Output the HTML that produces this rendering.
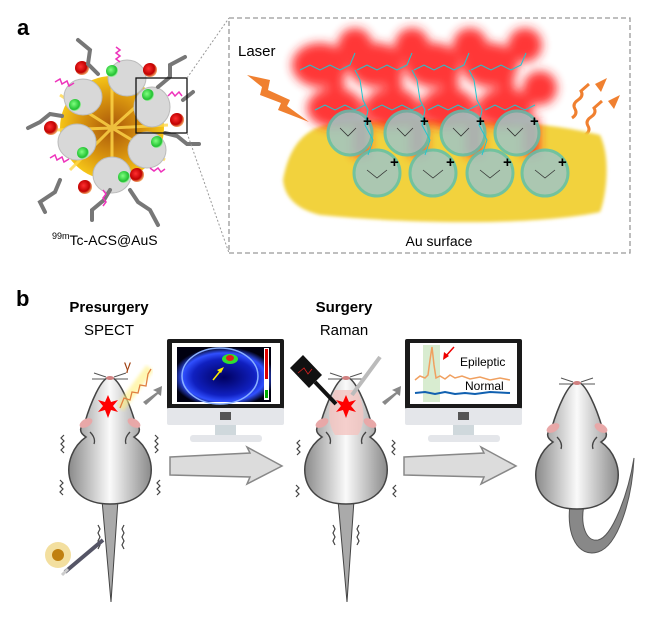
<!DOCTYPE html>
<html><head><meta charset="utf-8"><style>
html,body{margin:0;padding:0;background:#fff;}
svg{display:block;font-family:"Liberation Sans",sans-serif;}
</style></head><body>
<svg width="663" height="633" viewBox="0 0 663 633" xmlns="http://www.w3.org/2000/svg">
<defs>
<radialGradient id="gold" cx="50%" cy="50%" r="50%"><stop offset="0" stop-color="#a8560a"/><stop offset="0.6" stop-color="#d9950f"/><stop offset="1" stop-color="#f5c518"/></radialGradient>
<linearGradient id="mb" x1="0" x2="1" y1="0" y2="0"><stop offset="0" stop-color="#8a8a8a"/><stop offset="0.5" stop-color="#fafafa"/><stop offset="1" stop-color="#8a8a8a"/></linearGradient>
<filter id="blur3"><feGaussianBlur stdDeviation="5"/></filter>
<filter id="blur2"><feGaussianBlur stdDeviation="1.5"/></filter>
<radialGradient id="red" cx="40%" cy="40%" r="60%"><stop offset="0" stop-color="#ff3030"/><stop offset="0.7" stop-color="#c00000"/><stop offset="1" stop-color="#f0a060"/></radialGradient>
<radialGradient id="grn" cx="40%" cy="40%" r="60%"><stop offset="0" stop-color="#80ff80"/><stop offset="0.8" stop-color="#20c030"/><stop offset="1" stop-color="#b0f0b0"/></radialGradient>
<radialGradient id="scr" cx="50%" cy="55%" r="55%"><stop offset="0" stop-color="#000060"/><stop offset="0.6" stop-color="#1020c0"/><stop offset="0.8" stop-color="#3050ff"/><stop offset="1" stop-color="#000010"/></radialGradient>
<g id="mouse">
 <path d="M0,0 C-9,0 -20,28 -25,45 C-30,50 -32,55 -24,60 C-50,78 -50,127 0,127 C50,127 50,78 24,60 C32,55 30,50 25,45 C20,28 9,0 0,0 Z" fill="url(#mb)" stroke="#444" stroke-width="1.5"/>
 <ellipse cx="-24" cy="46" rx="7" ry="4" fill="#e8a8a8" transform="rotate(-30 -24 46)"/>
 <ellipse cx="24" cy="46" rx="7" ry="4" fill="#e8a8a8" transform="rotate(30 24 46)"/>
 <path d="M-20,55 q6,6 4,12 M20,55 q-6,6 -4,12" stroke="#444" fill="none" stroke-width="1.3"/>
 <path d="M-4,0 l-12,-4 M-5,2 l-13,0 M4,0 l12,-4 M5,2 l13,0" stroke="#555" stroke-width="1"/>
 <ellipse cx="0" cy="1" rx="4" ry="2" fill="#d08080"/>
</g>
<g id="mon">
 <rect x="0" y="0" width="117" height="70" fill="#1a1a1a" rx="2"/>
 <rect x="0" y="69" width="117" height="17" fill="#e4e6ea" rx="2"/>
 <rect x="53" y="73" width="11" height="8" fill="#555"/>
 <rect x="48" y="86" width="21" height="10" fill="#cfd8dc"/>
 <rect x="23" y="96" width="72" height="7" fill="#e4e6ea" rx="3"/>
</g>
<path id="bigarrow" d="M0,10 L80,6 L77,0 L112,19 L77,37 L80,30 L0,28 Z" fill="#dcdcdc" stroke="#888" stroke-width="1.5"/>
</defs>

<!-- panel a -->
<text x="17" y="35" font-size="22" font-weight="bold">a</text>
<circle cx="112" cy="128" r="52" fill="url(#gold)"/>
<g stroke="#ffd84a" stroke-width="3" opacity="0.8">
<path d="M112,128 L60,95 M112,128 L165,160 M112,128 L70,170 M112,128 L160,85 M112,128 L112,70 M112,128 L112,185 M112,128 L55,130 M112,128 L168,125"/></g>
<g fill="#d8d8d8" stroke="#bbb">
<ellipse cx="83" cy="97" rx="19" ry="18"/><ellipse cx="127" cy="78" rx="19" ry="18"/><ellipse cx="152" cy="107" rx="18" ry="20"/><ellipse cx="147" cy="150" rx="19" ry="18"/><ellipse cx="112" cy="175" rx="19" ry="18"/><ellipse cx="77" cy="142" rx="19" ry="18"/></g>
<g fill="url(#grn)">
<circle cx="75" cy="105" r="6"/><circle cx="112" cy="71" r="6"/><circle cx="148" cy="95" r="6"/><circle cx="157" cy="142" r="6"/><circle cx="124" cy="177" r="6"/><circle cx="83" cy="153" r="6"/></g>
<g fill="url(#red)">
<circle cx="82" cy="68" r="7"/><circle cx="150" cy="70" r="7"/><circle cx="177" cy="120" r="7"/><circle cx="137" cy="175" r="7"/><circle cx="85" cy="187" r="7"/><circle cx="51" cy="128" r="7"/></g>
<g stroke="#777" stroke-width="4" fill="none" stroke-linecap="round">
<path d="M78,40 l12,10 l-2,14 l10,10"/><path d="M185,57 l-15,8 l0,12 l-12,10"/><path d="M28,128 l12,-6 l10,-8 l12,2"/><path d="M60,180 l-5,12 l-15,10 l5,10"/><path d="M110,190 l-6,10 l-12,10 l0,10"/><path d="M130,190 l8,12 l12,8 l8,15"/><path d="M165,133 l12,3 l10,8 l12,0"/><path d="M183,100 l10,-8"/></g>
<g stroke="#ee33bb" stroke-width="1.5" fill="none">
<path d="M55,82 l5,-3 l2,5 l5,-3 l2,5 l5,-3"/><path d="M116,47 l4,3 l-4,3 l4,3 l-4,3 l4,3"/><path d="M168,96 l4,-4 l3,4 l4,-4 l3,4"/><path d="M50,158 l5,-3 l2,5 l5,-3 l2,5 l5,-3"/><path d="M150,168 l4,3 l4,-3 l3,4 l4,-3"/><path d="M103,190 l3,4 l-3,4 l3,4 l-3,4"/></g>
<rect x="136" y="78" width="51" height="55" fill="none" stroke="#111" stroke-width="1.3"/>
<line x1="187" y1="78" x2="229" y2="18" stroke="#999" stroke-dasharray="2,2"/>
<line x1="187" y1="133" x2="229" y2="253" stroke="#999" stroke-dasharray="2,2"/>
<text x="52" y="245" font-size="14"><tspan font-size="9" dy="-6">99m</tspan><tspan dy="6">Tc-ACS@AuS</tspan></text>

<rect x="229" y="18" width="401" height="235" fill="none" stroke="#999" stroke-width="1.3" stroke-dasharray="5,3"/>
<text x="238" y="56" font-size="15">Laser</text>
<polygon points="247,75 270,80 268,90 290,100 287,106 309,122 278,110 281,103 260,95 262,87" fill="#f08030"/>
<g stroke="#f08030" stroke-width="3" fill="none"><path d="M572,118 q6,-4 3,-9 q-3,-5 3,-9 q6,-4 3,-9 l8,-7"/><path d="M585,135 q6,-4 3,-9 q-3,-5 3,-9 q6,-4 3,-9 l8,-7"/></g>
<polygon points="595,84 607,78 601,92" fill="#f08030"/><polygon points="608,101 620,95 614,109" fill="#f08030"/>
<path d="M283,180 C290,140 310,125 340,122 C400,118 520,115 600,135 C612,160 605,200 600,212 C540,225 420,225 320,215 C300,210 285,200 283,180 Z" fill="#f2d23e" filter="url(#blur2)"/>
<g fill="#ff2020" filter="url(#blur3)" opacity="0.9">
<ellipse cx="320" cy="65" rx="28" ry="22"/><ellipse cx="376" cy="65" rx="28" ry="22"/><ellipse cx="433" cy="65" rx="28" ry="22"/><ellipse cx="490" cy="65" rx="28" ry="22"/>
<ellipse cx="355" cy="45" rx="17" ry="17"/><ellipse cx="412" cy="45" rx="17" ry="17"/><ellipse cx="470" cy="45" rx="17" ry="17"/><ellipse cx="525" cy="45" rx="17" ry="17"/>
<ellipse cx="335" cy="108" rx="28" ry="20"/><ellipse cx="392" cy="108" rx="28" ry="20"/><ellipse cx="448" cy="108" rx="28" ry="20"/><ellipse cx="505" cy="108" rx="28" ry="20"/>
<ellipse cx="540" cy="88" rx="17" ry="17"/>
<rect x="353" y="118" width="16" height="38"/><rect x="410" y="118" width="16" height="38"/><rect x="466" y="118" width="16" height="38"/><rect x="523" y="118" width="16" height="38"/>
<rect x="328" y="72" width="16" height="34"/><rect x="386" y="72" width="16" height="34"/><rect x="442" y="72" width="16" height="34"/><rect x="498" y="72" width="16" height="34"/></g>
<g fill="#9fc6c6" stroke="#5cc0b0" stroke-width="3" opacity="0.85">
<circle cx="350" cy="133" r="22"/><circle cx="407" cy="133" r="22"/><circle cx="463" cy="133" r="22"/><circle cx="517" cy="133" r="22"/>
<circle cx="377" cy="173" r="23"/><circle cx="433" cy="173" r="23"/><circle cx="490" cy="173" r="23"/><circle cx="545" cy="173" r="23"/></g>
<g stroke="#20c8d0" stroke-width="1" fill="none">
<path d="M300,70 l10,-5 l10,5 l10,-5 l10,5 l10,-5 l5,-12 M355,70 l5,10 l3,20 l5,10 l-3,15 l8,15 l-5,15"/>
<path d="M357,70 l10,-5 l10,5 l10,-5 l10,5 l10,-5 l5,-12 M412,70 l5,10 l3,20 l5,10 l-3,15 l8,15 l-5,15"/>
<path d="M414,70 l10,-5 l10,5 l10,-5 l10,5 l10,-5 l5,-12 M469,70 l5,10 l3,20 l5,10 l-3,15 l8,15 l-5,15"/>
<path d="M471,70 l10,-5 l10,5 l10,-5 l10,5 l10,-5 l5,-12"/>
<path d="M315,110 l10,-5 l10,5 l10,-5 l10,5 l10,-5 M372,110 l10,-5 l10,5 l10,-5 l10,5 l10,-5 M428,110 l10,-5 l10,5 l10,-5 l10,5 l10,-5 M485,110 l10,-5 l10,5 l10,-5 l10,5 l10,-5"/></g>
<g stroke="#333" stroke-width="0.8" fill="none">
<path d="M340,128 l8,8 l8,-8 M397,128 l8,8 l8,-8 M453,128 l8,8 l8,-8 M507,128 l8,8 l8,-8 M367,170 l10,8 l10,-8 M423,170 l10,8 l10,-8 M480,170 l10,8 l10,-8 M535,170 l10,8 l10,-8"/></g>
<g font-size="15" font-weight="bold"><text x="363" y="126">+</text><text x="420" y="126">+</text><text x="476" y="126">+</text><text x="530" y="126">+</text><text x="390" y="167">+</text><text x="446" y="167">+</text><text x="503" y="167">+</text><text x="558" y="167">+</text></g>
<text x="439" y="246" font-size="14" text-anchor="middle">Au surface</text>

<!-- panel b -->
<text x="16" y="306" font-size="22" font-weight="bold">b</text>
<text x="109" y="312" font-size="15" font-weight="bold" text-anchor="middle">Presurgery</text>
<text x="109" y="335" font-size="15" text-anchor="middle">SPECT</text>
<text x="344" y="312" font-size="15" font-weight="bold" text-anchor="middle">Surgery</text>
<text x="344" y="335" font-size="15" text-anchor="middle">Raman</text>

<use href="#mon" x="167" y="339"/>
<rect x="172" y="343" width="108" height="61" fill="#fff"/>
<rect x="177" y="347" width="94" height="55" fill="url(#scr)"/>
<ellipse cx="220" cy="376" rx="38" ry="28" fill="none" stroke="#8ab0ff" stroke-width="1.5"/>
<ellipse cx="230" cy="359" rx="8" ry="5" fill="#30e030"/><ellipse cx="230" cy="358" rx="4" ry="3" fill="#e02020"/>
<line x1="213" y1="380" x2="222" y2="369" stroke="#ffee00" stroke-width="1.5"/><polygon points="224,367 217,370 221,373" fill="#ffee00"/>
<rect x="264" y="348" width="5" height="52" fill="#fff"/><rect x="265" y="349" width="3" height="30" fill="#d00"/><rect x="265" y="390" width="3" height="8" fill="#0a0"/>

<use href="#mon" x="405" y="339"/>
<rect x="410" y="343" width="107" height="61" fill="#fff"/>
<rect x="423" y="345" width="17" height="57" fill="#d8ecd0"/>
<polyline points="415,380 420,376 425,378 428,375 430,360 432,347 434,365 436,378 440,376 445,379 450,375 455,378 462,376 470,379 480,377 490,380 500,378 510,380" fill="none" stroke="#f0a060" stroke-width="1.5"/>
<polyline points="415,393 425,392 435,394 445,392 455,394 465,393 475,394 490,392 510,393" fill="none" stroke="#1060b0" stroke-width="2"/>
<line x1="454" y1="347" x2="445" y2="357" stroke="#e00" stroke-width="1.5"/><polygon points="443,360 444,352 449,356" fill="#e00"/>
<text x="460" y="366" font-size="12">Epileptic</text>
<text x="465" y="390" font-size="12">Normal</text>

<use href="#bigarrow" x="170" y="447"/>
<use href="#bigarrow" x="404" y="447"/>
<polygon points="143,402 157,392 153,390 162,386 161,396 158,394 146,405" fill="#888"/>
<polygon points="382,402 396,392 392,390 401,386 400,396 397,394 385,405" fill="#888"/>

<!-- mouse 1 -->
<polygon points="102,500 118,500 111,602" fill="#aaa" stroke="#444"/>
<use href="#mouse" x="110" y="377"/>
<g stroke="#444" fill="none" stroke-width="1.2"><path d="M64,435 l-3,3 l3,3 l-3,3 l3,3 l-3,3 l3,3"/><path d="M155,435 l3,3 l-3,3 l3,3 l-3,3 l3,3 l-3,3"/><path d="M60,480 l3,3 l-3,3 l3,3 l-3,3 l3,3"/><path d="M160,480 l-3,3 l3,3 l-3,3 l3,3 l-3,3"/><path d="M98,525 l2,4 l-2,4 l2,4 l-2,4 l2,4 l-2,4"/><path d="M124,525 l-2,4 l2,4 l-2,4 l2,4 l-2,4 l2,4"/></g>
<path d="M120,408 L150,368" stroke="#fff080" stroke-width="9" opacity="0.6" filter="url(#blur2)"/>
<polyline points="120,408 124,398 130,400 132,392 138,393 140,385 146,386 148,374 151,369" fill="none" stroke="#e08040" stroke-width="1.3"/>
<text x="124" y="370" font-size="14" fill="#a04010">γ</text>
<polygon points="108,395 111,402 118,400 113,406 118,412 111,410 108,418 105,410 98,412 103,406 98,400 105,402" fill="#ff0000"/>
<g><circle cx="58" cy="555" r="13" fill="#e8c040" opacity="0.5"/><circle cx="58" cy="555" r="6" fill="#c08010"/><line x1="65" y1="572" x2="103" y2="540" stroke="#556" stroke-width="4"/><line x1="62" y1="575" x2="68" y2="569" stroke="#ccc" stroke-width="3"/></g>

<!-- mouse 2 -->
<polygon points="338,500 354,500 347,602" fill="#aaa" stroke="#444"/>
<use href="#mouse" x="346" y="377"/>
<path d="M335,390 C330,400 325,420 335,435 L358,435 C368,420 362,400 357,390 Z" fill="#f4c4c0" opacity="0.8"/>
<polygon points="346,395 349,402 356,400 351,406 356,412 349,410 346,418 343,410 336,412 341,406 336,400 343,402" fill="#ff0000"/>
<g stroke="#444" fill="none" stroke-width="1.2"><path d="M300,440 l-3,3 l3,3 l-3,3 l3,3 l-3,3"/><path d="M392,440 l3,3 l-3,3 l3,3 l-3,3 l3,3"/><path d="M296,485 l3,3 l-3,3 l3,3 l-3,3"/><path d="M396,485 l-3,3 l3,3 l-3,3 l3,3"/><path d="M333,525 l2,4 l-2,4 l2,4 l-2,4 l2,4"/><path d="M359,525 l-2,4 l2,4 l-2,4 l2,4 l-2,4"/></g>
<polygon points="290,368 303,355 322,375 309,388" fill="#111"/>
<polyline points="298,373 304,368 308,374 312,369" stroke="#e02020" fill="none" stroke-width="0.8"/>
<line x1="315" y1="382" x2="336" y2="404" stroke="#111" stroke-width="4"/>
<line x1="380" y1="357" x2="352" y2="395" stroke="#bbb" stroke-width="4"/>

<!-- mouse 3 -->
<path d="M570,505 C566,535 578,558 598,552 C618,546 632,500 634,458 C628,495 612,537 598,540 C586,542 580,525 584,505 Z" fill="#888" stroke="#555"/>
<g transform="translate(577,382)"><use href="#mouse"/></g>
</svg>
</body></html>
